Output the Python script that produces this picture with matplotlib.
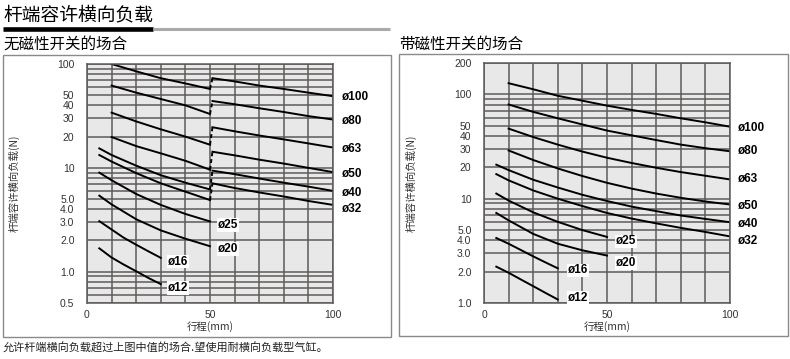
import matplotlib
matplotlib.use('Agg')
import matplotlib.pyplot as plt
import matplotlib.ticker as mticker
from matplotlib.patches import Rectangle
from matplotlib.lines import Line2D

plt.rcParams['font.family'] = ['Liberation Sans', 'Noto Sans CJK SC', 'DejaVu Sans']
cjk = ['Noto Sans CJK SC', 'DejaVu Sans']

bores = ['ø100', 'ø80', 'ø63', 'ø50', 'ø40', 'ø32', 'ø25', 'ø20', 'ø16', 'ø12']

# 无磁性开关: two segments (jump at 50 mm) for the big bores
x_a10 = [10, 20, 30, 40, 50]
x_a5 = [5, 10, 20, 30, 40, 50]
x_b = [51, 60, 70, 80, 90, 100]
x_short = [5, 10, 15, 20, 25, 30]

left_seg1 = {
    'ø100': (x_a10, [100, 85, 73, 65, 57.5]),
    'ø80': (x_a10, [62, 53, 46, 40, 33]),
    'ø63': (x_a10, [34, 28, 23.5, 20, 16.7]),
    'ø50': (x_a10, [19.8, 16.2, 13.8, 11.7, 9.6]),
    'ø40': (x_a5, [15.4, 13.3, 10.5, 8.5, 7.2, 6.2]),
    'ø32': (x_a5, [13.3, 11.5, 8.9, 7.1, 5.9, 4.9]),
    'ø25': (x_a5, [9.0, 7.6, 5.6, 4.4, 3.6, 3.05]),
    'ø20': (x_a5, [5.4, 4.45, 3.2, 2.5, 2.08, 1.76]),
    'ø16': (x_short, [3.07, 2.55, 2.12, 1.82, 1.57, 1.36]),
    'ø12': (x_short, [1.68, 1.37, 1.17, 1.01, 0.87, 0.76]),
}
left_seg2 = {
    'ø100': [73, 68, 62, 57.5, 53, 49],
    'ø80': [44, 41, 37.5, 34.5, 31.5, 29.2],
    'ø63': [24.6, 22.5, 20.5, 18.8, 17.2, 15.7],
    'ø50': [14.3, 13.2, 12.0, 11.0, 10.0, 9.1],
    'ø40': [9.4, 8.7, 7.9, 7.2, 6.6, 6.0],
    'ø32': [7.1, 6.4, 5.8, 5.3, 4.8, 4.4],
}

# 带磁性开关
x_r10 = [10, 20, 30, 40, 50, 60, 70, 80, 90, 100]
x_r5 = [5, 10, 20, 30, 40, 50, 60, 70, 80, 90, 100]
right_data = {
    'ø100': (x_r10, [128, 112, 97, 87, 78, 71, 65, 59, 54, 49]),
    'ø80': (x_r10, [80, 68, 59, 51.5, 45, 40.5, 36.5, 33, 30.5, 28.5]),
    'ø63': (x_r10, [47, 39, 33, 28.3, 24.7, 22, 19.8, 18, 16.6, 15.3]),
    'ø50': (x_r10, [29, 23.5, 19.5, 16.5, 14.2, 12.5, 11.2, 10.2, 9.4, 8.8]),
    'ø40': (x_r5, [21.2, 18.8, 15.2, 12.8, 10.9, 9.5, 8.4, 7.6, 6.9, 6.4, 5.95]),
    'ø32': (x_r5, [17.2, 15.0, 12.0, 10.0, 8.5, 7.3, 6.45, 5.8, 5.25, 4.8, 4.35]),
    'ø25': (x_a5, [11.2, 9.6, 7.4, 6.0, 5.0, 4.3]),
    'ø20': (x_a5, [7.3, 6.2, 4.6, 3.7, 3.2, 2.85]),
    'ø16': (x_short, [4.2, 3.7, 3.22, 2.8, 2.45, 2.15]),
    'ø12': (x_short, [2.23, 1.95, 1.68, 1.45, 1.25, 1.08]),
}

left_yticks = [0.5, 1, 2, 3, 4, 5, 10, 20, 30, 40, 50, 100]
left_yticklabels = ['0.5', '1.0', '2.0', '3.0', '4.0', '5.0', '10', '20', '30', '40', '50', '100']
right_yticks = [1, 2, 3, 4, 5, 10, 20, 30, 40, 50, 100, 200]
right_yticklabels = ['1.0', '2.0', '3.0', '4.0', '5.0', '10', '20', '30', '40', '50', '100', '200']

# label anchors (x, y) in data units
left_lab = {'ø100': (103.5, 48), 'ø80': (103.5, 28.3), 'ø63': (103.5, 15.2), 'ø50': (103.5, 8.75),
            'ø40': (103.5, 5.75), 'ø32': (103.5, 4.03), 'ø25': (53.3, 2.83), 'ø20': (53.3, 1.66),
            'ø16': (33, 1.25), 'ø12': (33, 0.70)}
right_lab = {'ø100': (103.3, 47.7), 'ø80': (103.3, 28.5), 'ø63': (103.3, 15.4), 'ø50': (103.3, 8.6),
             'ø40': (103.3, 5.66), 'ø32': (103.3, 3.92), 'ø25': (53.7, 3.9), 'ø20': (53.7, 2.43),
             'ø16': (34, 2.05), 'ø12': (34, 1.12)}

gcol = '#5e5a5a'

fig = plt.figure(figsize=(7.9, 3.59), dpi=100)


def setup(ax, ylim, yticks, yticklabels):
    ax.set_facecolor('#e8e8e8')
    ax.set_yscale('log')
    ax.set_xlim(0, 100)
    ax.set_ylim(*ylim)
    ax.yaxis.set_major_locator(mticker.FixedLocator(yticks))
    ax.yaxis.set_major_formatter(mticker.FixedFormatter(yticklabels))
    ax.yaxis.set_minor_locator(mticker.LogLocator(subs=range(1, 10)))
    ax.yaxis.set_minor_formatter(mticker.NullFormatter())
    ax.set_xticks([0, 50, 100])
    ax.set_xticklabels(['0', '50', '100'])
    ax.xaxis.set_minor_locator(mticker.MultipleLocator(10))
    ax.tick_params(which='both', length=0, labelsize=7.5, labelcolor='#333333')
    ax.tick_params(axis='y', pad=9)
    ax.tick_params(axis='x', pad=5)
    ax.grid(True, which='both', color=gcol, lw=1.1)
    ax.set_axisbelow(True)
    for s in ax.spines.values():
        s.set_color(gcol)
        s.set_linewidth(1.1)
    ax.set_xlabel('行程(mm)', family=cjk, fontsize=7.5, color='#333333', labelpad=1)


def put_labels(ax, lab):
    for b in bores:
        x, y = lab[b]
        inside = x < 100
        ax.text(x, y, b, fontsize=8.5, fontweight='bold', va='center', ha='left', clip_on=False,
                bbox=dict(facecolor='white', edgecolor='none', pad=0.6) if inside else None)


# left chart
axl = fig.add_axes([87 / 790, 1 - 303 / 359, 246 / 790, 239 / 359])
setup(axl, (0.5, 100), left_yticks, left_yticklabels)
for b in bores:
    xs, ys = left_seg1[b]
    axl.plot(xs, ys, color='black', lw=1.4)
    if b in left_seg2:
        y2 = left_seg2[b]
        axl.plot(x_b, y2, color='black', lw=1.4)
        axl.plot([xs[-1], x_b[0]], [ys[-1], y2[0]], color='black', lw=1.4, ls=(0, (2, 1.5)))
put_labels(axl, left_lab)
axl.set_ylabel('杆端容许横向负载(N)', family=cjk, fontsize=7.5, color='#333333')
axl.yaxis.set_label_coords(-67 / 246, 0.5)

# right chart
axr = fig.add_axes([484 / 790, 1 - 303 / 359, 246 / 790, 240 / 359])
setup(axr, (1, 200), right_yticks, right_yticklabels)
axr.yaxis.set_minor_locator(mticker.FixedLocator([v * d for d in (1, 10) for v in range(2, 10)]))
for b in bores:
    xs, ys = right_data[b]
    axr.plot(xs, ys, color='black', lw=1.4)
put_labels(axr, right_lab)
axr.set_ylabel('杆端容许横向负载(N)', family=cjk, fontsize=7.5, color='#333333')
axr.yaxis.set_label_coords(-67 / 246, 0.5)

# frames around each chart
for x0, y0, x1, y1 in [(3, 55, 391, 337), (399, 54, 788, 336)]:
    fig.add_artist(Rectangle((x0 / 790, 1 - y1 / 359), (x1 - x0) / 790, (y1 - y0) / 359,
                             transform=fig.transFigure, fill=False, edgecolor='#8a8a8a', lw=1.0))

# titles
fig.text(3 / 790, 1 - 15 / 359, '杆端容许横向负载', family=cjk, fontsize=13.5, va='center', ha='left')
fig.add_artist(Line2D([3 / 790, 153 / 790], [1 - 28.5 / 359] * 2, color='black', lw=3.3,
                      transform=fig.transFigure, solid_capstyle='butt'))
fig.add_artist(Line2D([153 / 790, 390 / 790], [1 - 28.5 / 359] * 2, color='#aaaaaa', lw=2.2,
                      transform=fig.transFigure, solid_capstyle='butt'))
fig.text(3 / 790, 1 - 44 / 359, '无磁性开关的场合', family=cjk, fontsize=11.2, va='center', ha='left')
fig.text(399 / 790, 1 - 44 / 359, '带磁性开关的场合', family=cjk, fontsize=11.2, va='center', ha='left')
fig.text(3 / 790, 1 - 348 / 359, '允许杆端横向负载超过上图中值的场合.望使用耐横向负载型气缸。',
         family=cjk, fontsize=8, va='center', ha='left', color='#222222')

fig.savefig('out.png', dpi=100)
